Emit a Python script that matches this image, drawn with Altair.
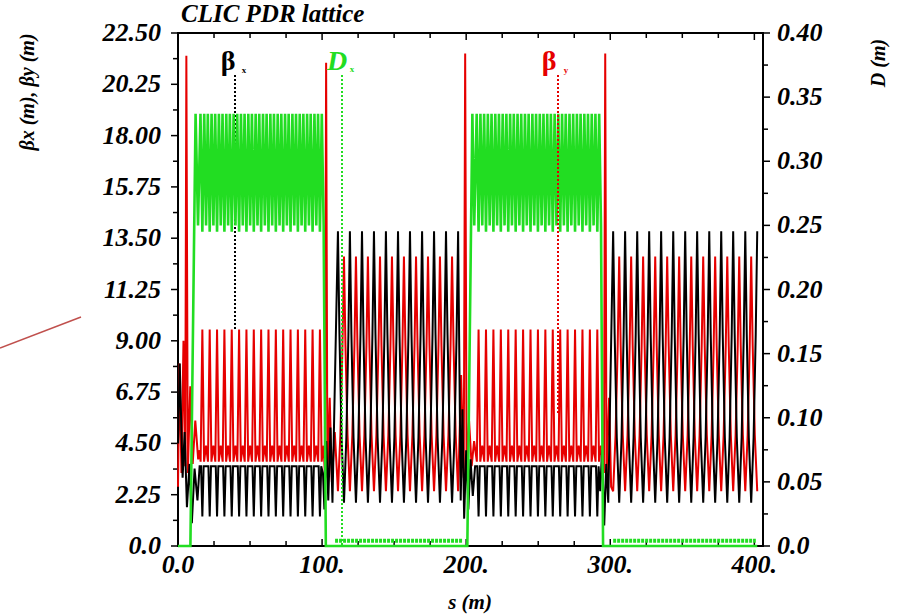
import altair as alt
import pandas as pd

# ---------------- values ----------------
# s (m) of the beta_y maxima inside the two arcs
ARC1_PEAKS = [16.9, 22.0, 27.1, 32.2, 37.3, 42.4, 47.5, 52.6, 57.7, 62.8, 67.9, 73.0,
              78.1, 83.2, 88.3, 93.4, 98.5]
ARC2_PEAKS = [208.6, 213.75, 218.9, 224.05, 229.2, 234.35, 239.5, 244.65, 249.8, 254.95,
              260.1, 265.25, 270.4, 275.55, 280.7, 285.85, 291.0]
# s (m) of the beta_x / beta_y maxima in the two straight sections
STR1_BX_PEAKS = [111.0, 119.3, 127.7, 136.0, 144.3, 152.7, 161.0, 169.4, 177.7, 186.0, 194.4]
STR1_BY_PEAKS = [115.2, 123.5, 131.8, 140.2, 148.5, 156.8, 165.2, 173.5, 181.8, 190.2]
STR2_BX_PEAKS = [302.0, 310.3, 318.7, 327.0, 335.3, 343.7, 352.0, 360.3, 368.7, 377.0,
                 385.3, 393.7, 402.0]
STR2_BY_PEAKS = [306.2, 314.5, 322.8, 331.2, 339.5, 347.8, 356.2, 364.5, 372.8, 381.2,
                 389.5, 397.8]

# arc cell: offsets from the beta_y maximum (m) and the values there
ARC_BY_DS = [-1.2, 0.0, 1.2, 2.55]
ARC_BY_V = [3.7, 9.5, 3.7, 4.4]
ARC_BX_DS = [-0.9, 0.0, 0.9]
ARC_BX_V = [3.5, 1.3, 3.5]
ARC_D_DS = [-1.3, 0.0, 1.3, 2.575]
ARC_D_V = [0.337, 0.245, 0.337, 0.25]

# straight sections: maxima / minima (m) and the shape of a flank
# (fraction of the way from a maximum to the next minimum, fraction of the swing left)
STR_BX_MAX, STR_BX_MIN = 13.8, 1.9
STR_BY_MAX, STR_BY_MIN = 12.7, 2.4
FLANK_F = [0.25, 0.6]
FLANK_G = [0.62, 0.24]

# matching sections between arcs and straights (s, value)
BX_M0_S = [0.0, 1.2, 3.2, 4.6, 6.2, 8.0, 9.6, 11.5, 13.5, 15.0]
BX_M0_V = [4.5, 8.0, 3.0, 5.0, 1.7, 3.6, 1.0, 3.4, 2.0, 3.5]
BX_M1_S = [100.6, 101.6, 102.9, 104.3, 105.8, 107.2]
BX_M1_V = [3.2, 1.6, 4.6, 2.0, 5.2, 1.9]
BX_M2_S = [196.2, 197.4, 198.6, 200.0, 201.5, 203.0, 204.6, 206.2]
BX_M2_V = [2.0, 6.0, 1.2, 4.2, 1.6, 3.8, 2.2, 3.5]
BX_M3_S = [293.0, 294.3, 295.8, 297.2, 298.6]
BX_M3_V = [2.4, 4.2, 0.9, 3.6, 1.9]

BY_M0_S = [0.0, 1.0, 2.4, 3.8, 5.0, 5.8, 6.8, 8.5, 10.2, 12.0, 14.0, 15.0]
BY_M0_V = [2.6, 8.0, 3.2, 9.0, 3.5, 21.5, 3.2, 7.0, 3.6, 5.5, 3.8, 4.2]
BY_M1_S = [101.9, 102.8, 103.7, 105.3, 106.8, 108.8]
BY_M1_V = [3.2, 21.2, 3.0, 6.5, 2.8, 5.0]
BY_M2_S = [196.5, 198.3, 199.3, 200.3, 202.0, 203.8, 205.5]
BY_M2_V = [7.5, 3.0, 21.6, 3.2, 5.5, 3.5, 4.6]
BY_M3_S = [295.6, 296.5, 297.4, 299.2, 300.6]
BY_M3_V = [3.2, 21.6, 3.0, 6.5, 2.6]

D_M0_S = [0.0, 8.6, 12.2, 13.9]
D_M0_V = [0.0, 0.0, 0.337, 0.25]
D_M1_S = [102.6, 199.8, 200.8, 204.3, 205.6]
D_M1_V = [0.0, 0.0, 0.0, 0.337, 0.25]
D_M2_S = [295.0, 402.0]
D_M2_V = [0.0, 0.0]
# thick green trace on the axis in the straight sections
D_FLAT_START = [109.0, 302.0]
D_FLAT_END = [197.5, 401.0]
D_FLAT_VALUE = 0.004

# axes
X_LABELS = [0, 100, 200, 300, 400]
X_MINOR = [25, 50, 75, 125, 150, 175, 225, 250, 275, 325, 350, 375]
BETA_MAJOR = [0.0, 2.25, 4.5, 6.75, 9.0, 11.25, 13.5, 15.75, 18.0, 20.25, 22.5]
BETA_MINOR = [1.125, 3.375, 5.625, 7.875, 10.125, 12.375, 14.625, 16.875, 19.125, 21.375]
D_MAJOR = [0.0, 0.05, 0.10, 0.15, 0.20, 0.25, 0.30, 0.35, 0.40]
D_MINOR = [0.025, 0.075, 0.125, 0.175, 0.225, 0.275, 0.325, 0.375]


# ---------------- build the traces ----------------
def arc(peaks, ds, vs):
    return [(p + d, v) for p in peaks for d, v in zip(ds, vs)]


def straight(hi_s, lo_s, hi, lo):
    ext = sorted([(s, hi) for s in hi_s] + [(s, lo) for s in lo_s])
    out = []
    for (s1, v1), (s2, v2) in zip(ext[:-1], ext[1:]):
        out.append((s1, v1))
        if v1 == hi:  # falling flank: steep just after the maximum
            out += [(s1 + f * (s2 - s1), lo + g * (hi - lo)) for f, g in zip(FLANK_F, FLANK_G)]
        else:  # rising flank: steep just before the maximum
            out += [(s2 - f * (s2 - s1), lo + g * (hi - lo))
                    for f, g in reversed(list(zip(FLANK_F, FLANK_G)))]
    out.append(ext[-1])
    return out


def pts(ss, vs):
    return list(zip(ss, vs))


bx = (pts(BX_M0_S, BX_M0_V) + arc(ARC1_PEAKS, ARC_BX_DS, ARC_BX_V) + pts(BX_M1_S, BX_M1_V)
      + straight(STR1_BX_PEAKS, STR1_BY_PEAKS, STR_BX_MAX, STR_BX_MIN)
      + pts(BX_M2_S, BX_M2_V) + arc(ARC2_PEAKS, ARC_BX_DS, ARC_BX_V) + pts(BX_M3_S, BX_M3_V)
      + straight(STR2_BX_PEAKS, STR2_BY_PEAKS, STR_BX_MAX, STR_BX_MIN))
by = (pts(BY_M0_S, BY_M0_V) + arc(ARC1_PEAKS, ARC_BY_DS, ARC_BY_V) + pts(BY_M1_S, BY_M1_V)
      + straight(STR1_BY_PEAKS, STR1_BX_PEAKS, STR_BY_MAX, STR_BY_MIN)
      + pts(BY_M2_S, BY_M2_V) + arc(ARC2_PEAKS, ARC_BY_DS, ARC_BY_V) + pts(BY_M3_S, BY_M3_V)
      + straight(STR2_BY_PEAKS, STR2_BX_PEAKS, STR_BY_MAX, STR_BY_MIN))
dx = (pts(D_M0_S, D_M0_V) + arc(ARC1_PEAKS, ARC_D_DS, ARC_D_V) + pts(D_M1_S, D_M1_V)
      + arc(ARC2_PEAKS, ARC_D_DS, ARC_D_V) + pts(D_M2_S, D_M2_V))


def frame(points):
    return pd.DataFrame({"s": [p[0] for p in points], "v": [p[1] for p in points],
                         "i": list(range(len(points)))})


df_bx, df_by, df_d = frame(bx), frame(by), frame(dx)
df_flat = pd.DataFrame({"s0": D_FLAT_START, "s1": D_FLAT_END, "v": [D_FLAT_VALUE] * 2})

# ---------------- styling ----------------
FONT = "Liberation Serif"
W, H = 585, 513
BLACK, RED, GREEN = "#000000", "#e60000", "#22dd22"

xs = alt.Scale(domain=[0, 406], nice=False, zero=False)
ybs = alt.Scale(domain=[0, 22.5], nice=False)
yds = alt.Scale(domain=[0, 0.4], nice=False)

TXT = dict(font=FONT, fontStyle="italic", fontWeight="bold", color="black")

by_line = alt.Chart(df_by).mark_line(color=RED, strokeWidth=2.0).encode(
    x=alt.X("s:Q", scale=xs, axis=None),
    y=alt.Y("v:Q", scale=ybs, axis=None),
    order="i:Q")
bx_line = alt.Chart(df_bx).mark_line(color=BLACK, strokeWidth=2.0).encode(
    x=alt.X("s:Q", scale=xs, axis=None),
    y=alt.Y("v:Q", scale=ybs, axis=None),
    order="i:Q")


def yticks(values, scale, x0, x1):
    return alt.Chart(pd.DataFrame({"v": values})).mark_rule(color="black", strokeWidth=1.5).encode(
        y=alt.Y("v:Q", scale=scale, axis=None), x=alt.value(x0), x2=alt.value(x1))


def xticks(values, y0, y1):
    return alt.Chart(pd.DataFrame({"s": values})).mark_rule(color="black", strokeWidth=1.5).encode(
        x=alt.X("s:Q", scale=xs, axis=None), y=alt.value(y0), y2=alt.value(y1))


def ylabels(values, scale, xpix, align):
    return alt.Chart(pd.DataFrame({"v": values})).transform_calculate(
        t="datum.v == 0 ? '0.0' : format(datum.v, '.2f')"
    ).mark_text(fontSize=26, align=align, baseline="middle", **TXT).encode(
        y=alt.Y("v:Q", scale=scale, axis=None), x=alt.value(xpix), text="t:N")


x_labels = alt.Chart(pd.DataFrame({"s": X_LABELS})).transform_calculate(
    t="datum.s == 0 ? '0.0' : format(datum.s, 'd') + '.'"
).mark_text(fontSize=26, align="center", baseline="middle", **TXT).encode(
    x=alt.X("s:Q", scale=xs, axis=None), y=alt.value(H + 19), text="t:N")

bx_pointer = alt.Chart().mark_rule(color=BLACK, strokeWidth=2, strokeDash=[2, 2]).encode(
    x=alt.value(57), y=alt.value(42), y2=alt.value(297))

beta_group = alt.layer(
    bx_pointer,
    yticks(BETA_MAJOR, ybs, -7, 0), yticks(BETA_MINOR, ybs, -5, 0),
    xticks(X_LABELS, H, H - 7), xticks(X_MINOR, H, H - 5),
    xticks(X_LABELS, 0, 7), xticks(X_MINOR, 0, 5),
    ylabels(BETA_MAJOR, ybs, -17, "right"), x_labels,
    by_line, bx_line,
)

d_line = alt.Chart(df_d).mark_line(color=GREEN, strokeWidth=2.6).encode(
    x=alt.X("s:Q", scale=xs, axis=None),
    y=alt.Y("v:Q", scale=yds, axis=None),
    order="i:Q")
d_flat = alt.Chart(df_flat).mark_rule(color=GREEN, strokeWidth=4, strokeDash=[3, 1]).encode(
    x=alt.X("s0:Q", scale=xs, axis=None), x2="s1:Q",
    y=alt.Y("v:Q", scale=yds, axis=None))

d_group = alt.layer(
    d_line, d_flat,
    yticks(D_MAJOR, yds, W, W + 7), yticks(D_MINOR, yds, W, W + 5),
    ylabels(D_MAJOR, yds, W + 14, "left"),
)

d_pointer = alt.Chart().mark_rule(color=GREEN, strokeWidth=2, strokeDash=[2, 2]).encode(
    x=alt.value(164), y=alt.value(42), y2=alt.value(H))
by_pointer = alt.Chart().mark_rule(color=RED, strokeWidth=2, strokeDash=[2, 2]).encode(
    x=alt.value(380), y=alt.value(42), y2=alt.value(382))


def label(text, x, y, color, size, style="normal", weight="bold", angle=0, align="center",
          baseline="middle"):
    return alt.Chart().mark_text(text=text, font=FONT, fontSize=size, fontStyle=style,
                                 fontWeight=weight, color=color, align=align, angle=angle,
                                 baseline=baseline).encode(x=alt.value(x), y=alt.value(y))


labels = [
    label("β", 50, 29, BLACK, 28), label("x", 66, 37, BLACK, 9),
    label("D", 159, 29, GREEN, 28, "italic"), label("x", 174, 36, GREEN, 9),
    label("β", 371, 29, RED, 28), label("y", 388, 37, RED, 9),
    # title and axis titles
    label("CLIC PDR lattice", 3, -11, BLACK, 25, "italic", align="left", baseline="alphabetic"),
    label("s (m)", 292, H + 57, BLACK, 21, "italic"),
    label("βx (m), βy (m)", -150, 59, BLACK, 20, "italic", angle=270),
    label("D (m)", W + 116, 30, BLACK, 20, "italic", angle=270),
]

side_line = alt.Chart().mark_rule(color="#c0504d", strokeWidth=1.5).encode(
    x=alt.value(-178), x2=alt.value(-97), y=alt.value(315), y2=alt.value(284))

chart = alt.layer(beta_group, d_group, d_pointer, by_pointer, *labels, side_line).resolve_scale(
    y="independent"
).properties(
    width=W, height=H,
    padding={"left": 178, "top": 33, "right": 140, "bottom": 70},
    autosize=alt.AutoSizeParams(type="none"),
    background="white",
).configure_view(stroke="black", strokeWidth=2)

chart.save("out.html", embed_options={"renderer": "svg", "actions": False})
